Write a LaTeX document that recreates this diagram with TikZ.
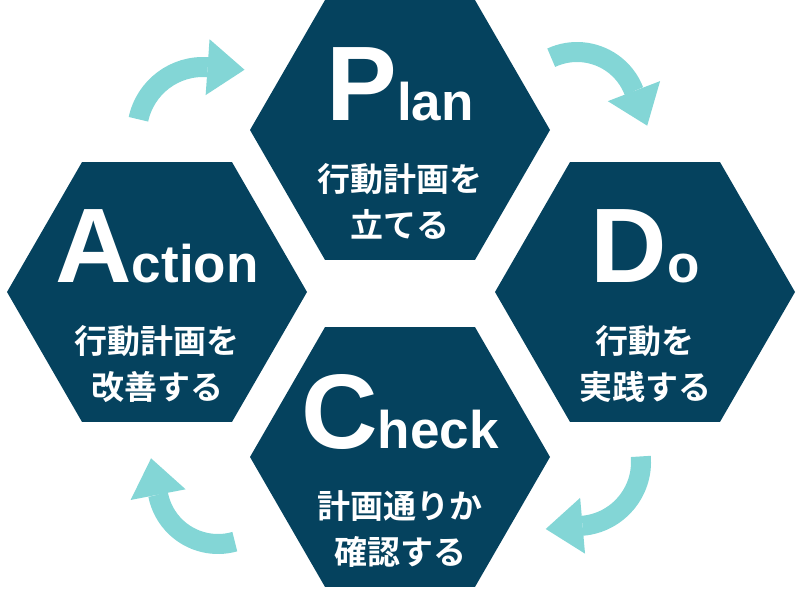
\documentclass[tikz,border=0pt]{standalone}
\usepackage{fontspec}
\usepackage{tikz}
\usetikzlibrary{shapes.geometric, arrows.meta, positioning}
\newfontfamily\headfont{Liberation Sans}[UprightFont=* Bold]
\newfontfamily\jpfont{Noto Sans CJK JP}[UprightFont=* Bold]
\definecolor{pdcanavy}{HTML}{05425E}
\definecolor{pdcateal}{HTML}{83D6D6}
\newcommand{\pdcaword}[2]{{\fontsize{106pt}{106pt}\selectfont #1}{\fontsize{53pt}{53pt}\selectfont #2}}

\begin{document}
\begin{tikzpicture}[
  x=1pt, y=1pt,
  hexbox/.style={regular polygon, regular polygon sides=6, minimum size=300pt,
                 inner sep=0pt, fill=pdcanavy},
  headline/.style={anchor=base, inner sep=0pt, text=white, font=\headfont},
  subline/.style={anchor=north, inner sep=0pt, text=white, align=center,
                  font=\jpfont\fontsize{33pt}{46pt}\selectfont},
  cyclearrow/.style={draw=pdcateal, line width=20pt,
                     -{Triangle[width=56pt, length=37pt, line width=0pt]}}
]
\useasboundingbox (0,0) rectangle (800,595);

% Hexagons
\node[hexbox] (plan)   at (400,465) {};
\node[hexbox] (do)     at (645,303) {};
\node[hexbox] (check)  at (400,138) {};
\node[hexbox] (action) at (157,303) {};

% Titles
\node[headline] (plan-t)   at ([yshift=9pt]plan.center)   {\pdcaword{P}{lan}};
\node[headline] (do-t)     at ([yshift=9pt]do.center)     {\pdcaword{D}{o}};
\node[headline] (check-t)  at ([yshift=9pt]check.center)  {\pdcaword{C}{heck}};
\node[headline] (action-t) at ([yshift=9pt]action.center) {\pdcaword{A}{ction}};

% Descriptions
\node[subline] (plan-s)   at ([yshift=-33pt]plan.center)   {行動計画を\\立てる};
\node[subline] (do-s)     at ([yshift=-33pt]do.center)     {行動を\\実践する};
\node[subline] (check-s)  at ([yshift=-33pt]check.center)  {計画通りか\\確認する};
\node[subline] (action-s) at ([yshift=-33pt]action.center) {行動計画を\\改善する};

% Cycle arrows
\coordinate (ap) at (203,462);
\coordinate (pd) at (577,482);
\coordinate (dc) at (577,133);
\coordinate (ca) at (218,112);
\draw[cyclearrow] (ap) ++(168:66) arc[start angle=168, end angle=86, radius=66] -- ++(-4:37);
\draw[cyclearrow] (pd) ++(115:61) arc[start angle=115, end angle=21, radius=61] -- ++(-69:37);
\draw[cyclearrow] (dc) ++(5:64) arc[start angle=5, end angle=-85, radius=64] -- ++(-175:37);
\draw[cyclearrow] (ca) ++(-74:61) arc[start angle=-74, end angle=-169, radius=61] -- ++(101:37);

\end{tikzpicture}
\end{document}
